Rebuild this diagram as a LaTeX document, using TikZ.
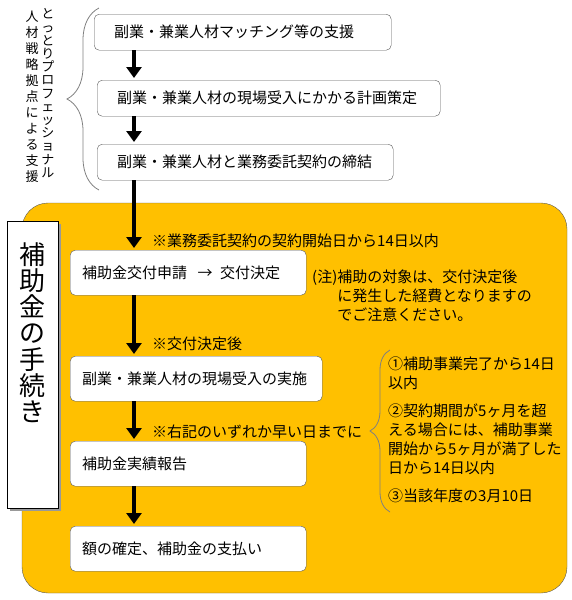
\documentclass[tikz,border=0pt]{standalone}
\usepackage{fontspec}
\setmainfont{Noto Sans CJK JP}
\usepackage{tikz}
\usetikzlibrary{arrows.meta, positioning, decorations.pathreplacing}
\definecolor{tebiki}{HTML}{FFC000}
\definecolor{waku}{HTML}{595959}

\begin{document}
\begin{tikzpicture}[x=1pt, y=-1pt,
    stepbox/.style={draw=waku, rounded corners=5pt, fill=white, anchor=north west, inner xsep=20pt, text width=#1, align=left, minimum height=36pt, font=\fontsize{15}{19}\selectfont},
    subbox/.style={stepbox=#1, inner xsep=12pt, minimum height=45pt},
    flow/.style={line width=3.6pt, -{Triangle[length=11pt, width=15pt]}, shorten >=2pt},
    memo/.style={anchor=west, inner sep=0pt, font=\fontsize{15}{19}\selectfont},
    note/.style={anchor=north west, inner sep=0pt, align=left, font=\fontsize{15}{19}\selectfont},
    kakko/.style={draw=gray, line width=0.8pt, decorate, decoration={brace, amplitude=#1}}]
    \useasboundingbox (0,0) rectangle (571,600);

    % 拠点による支援
    \node[note, font=\fontsize{13}{13.2}\selectfont, align=center, anchor=north] (kyoten1) at (48,8.5) {と\\っ\\と\\り\\プ\\ロ\\フ\\ェ\\ッ\\シ\\ョ\\ナ\\ル};
    \node[note, font=\fontsize{13}{16}\selectfont, align=center, anchor=north] (kyoten2) at (32,10.5) {人\\材\\戦\\略\\拠\\点\\に\\よ\\る\\支\\援};
    \draw[kakko=32pt] (99,190) -- (99,8);

    \node[stepbox=257pt] (matching) at (94,14) {副業・兼業人材マッチング等の支援};
    \node[stepbox=303pt] (keikaku) at (97,80) {副業・兼業人材の現場受入にかかる計画策定};
    \node[stepbox=256pt] (keiyaku) at (97,144) {副業・兼業人材と業務委託契約の締結};

    % 補助金の手続き
    \draw[draw=waku, fill=tebiki, rounded corners=26pt] (22,203) rectangle (567,593);
    \fill[gray!80] (10,224) rectangle (61,511);
    \node[draw=black, fill=white, anchor=north west, inner sep=0pt, minimum width=51pt, minimum height=287pt] (tetsuzuki) at (7,221) {};
    \node[inner sep=0pt, below=21pt of tetsuzuki.north, align=center, font=\fontsize{26}{26.3}\selectfont] (title) {補\\助\\金\\の\\手\\続\\き};

    \node[subbox=212pt] (shinsei) at (70,250) {補助金交付申請\hspace{0.7em}→\hspace{0.5em}交付決定};
    \node[subbox=228pt] (jisshi) at (70,356) {副業・兼業人材の現場受入の実施};
    \node[subbox=212pt] (houkoku) at (70,441) {補助金実績報告};
    \node[subbox=212pt] (shiharai) at (70,526) {額の確定、補助金の支払い};

    \coordinate (ax) at (134,0);
    \draw[flow] (matching.south -| ax) -- (keikaku.north -| ax);
    \draw[flow] (keikaku.south -| ax) -- (keiyaku.north -| ax);
    \draw[flow] (keiyaku.south -| ax) -- (shinsei.north -| ax);
    \draw[flow] (shinsei.south -| ax) -- (jisshi.north -| ax);
    \draw[flow] (jisshi.south -| ax) -- (houkoku.north -| ax);
    \draw[flow] (houkoku.south -| ax) -- (shiharai.north -| ax);

    \node[memo] (kaishi) at (152,241) {※業務委託契約の契約開始日から14日以内};
    \node[memo] (kettei) at (152,344) {※交付決定後};
    \node[memo] (kigen) at (152,432) {※右記のいずれか早い日までに};

    \node[note] (chui) at (312,269.5) {(注)補助の対象は、交付決定後\\\hphantom{(注)}に発生した経費となりますの\\\hphantom{(注)}でご注意ください。};

    \draw[kakko=20pt] (390,512) -- (390,350);
    \node[note] (kigenlist) at (388,356.5) {①補助事業完了から14日\\以内\\[9pt]②契約期間が5ヶ月を超\\える場合には、補助事業\\開始から5ヶ月が満了した\\日から14日以内\\[9pt]③当該年度の3月10日};
\end{tikzpicture}
\end{document}
